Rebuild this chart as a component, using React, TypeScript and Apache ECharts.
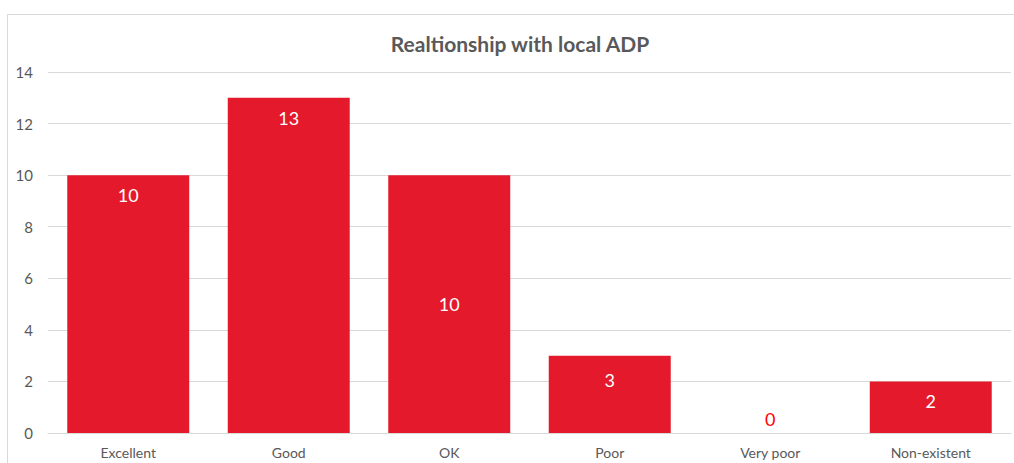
import React, { useEffect, useRef } from "react";
import * as echarts from "echarts";

const categories = ["Excellent", "Good", "OK", "Poor", "Very poor", "Non-existent"];
const values = [10, 13, 10, 3, 0, 2];
const yTicks = { min: 0, max: 14, interval: 2 };
const chartTitle = "Realtionship with local ADP";

const FONT = "Lato, 'Open Sans', sans-serif";
const BAR = "#E41A2C";

export default function App() {
  const ref = useRef<HTMLDivElement>(null);
  useEffect(() => {
    if (!ref.current) return;
    const chart = echarts.init(ref.current, undefined, { renderer: "svg" });
    const labelCfg = (i: number) => {
      const v = values[i];
      if (v === 0) {
        return { show: true, position: "top", distance: 5, color: "#FF0000" };
      }
      if (categories[i] === "OK") {
        return { show: true, position: "inside", color: "#FFFFFF" };
      }
      if (categories[i] === "Non-existent") {
        return { show: true, position: "insideTop", distance: 11, color: "#FFFFFF" };
      }
      if (categories[i] === "Poor") {
        return { show: true, position: "insideTop", distance: 15, color: "#FFFFFF" };
      }
      return { show: true, position: "insideTop", distance: 11, color: "#FFFFFF" };
    };
    chart.setOption({
      animation: false,
      backgroundColor: "#FFFFFF",
      textStyle: { fontFamily: FONT },
      title: {
        text: chartTitle,
        left: 515,
        top: 28,
        textAlign: "center",
        textStyle: { fontFamily: FONT, fontSize: 21, fontWeight: "bold", color: "#595959" },
      },
      graphic: [
        {
          type: "rect",
          shape: { x: 7.5, y: 14.5, width: 1020, height: 470 },
          style: { fill: "none", stroke: "#D9D9D9", lineWidth: 1 },
          silent: true,
        },
      ],
      grid: { left: 48, right: 3, top: 72, bottom: 30 },
      xAxis: {
        type: "category",
        data: categories,
        axisLine: { show: true, lineStyle: { color: "#D9D9D9" } },
        axisTick: { show: false },
        axisLabel: { color: "#595959", fontSize: 14, margin: 12, fontFamily: FONT },
      },
      yAxis: {
        type: "value",
        min: yTicks.min,
        max: yTicks.max,
        interval: yTicks.interval,
        axisLine: { show: false },
        axisTick: { show: false },
        splitLine: { show: true, lineStyle: { color: "#D9D9D9", width: 1 } },
        axisLabel: { color: "#595959", fontSize: 15, margin: 15, fontFamily: FONT },
      },
      series: [
        {
          type: "bar",
          barCategoryGap: "24%",
          itemStyle: { color: BAR },
          label: { fontSize: 18, fontFamily: FONT },
          data: values.map((v, i) => ({ value: v, label: labelCfg(i) })),
        },
      ],
    });
    return () => chart.dispose();
  }, []);
  return (
    <div
      ref={ref}
      style={{ position: "fixed", left: 0, top: 0, width: 1014, height: 463 }}
    />
  );
}
